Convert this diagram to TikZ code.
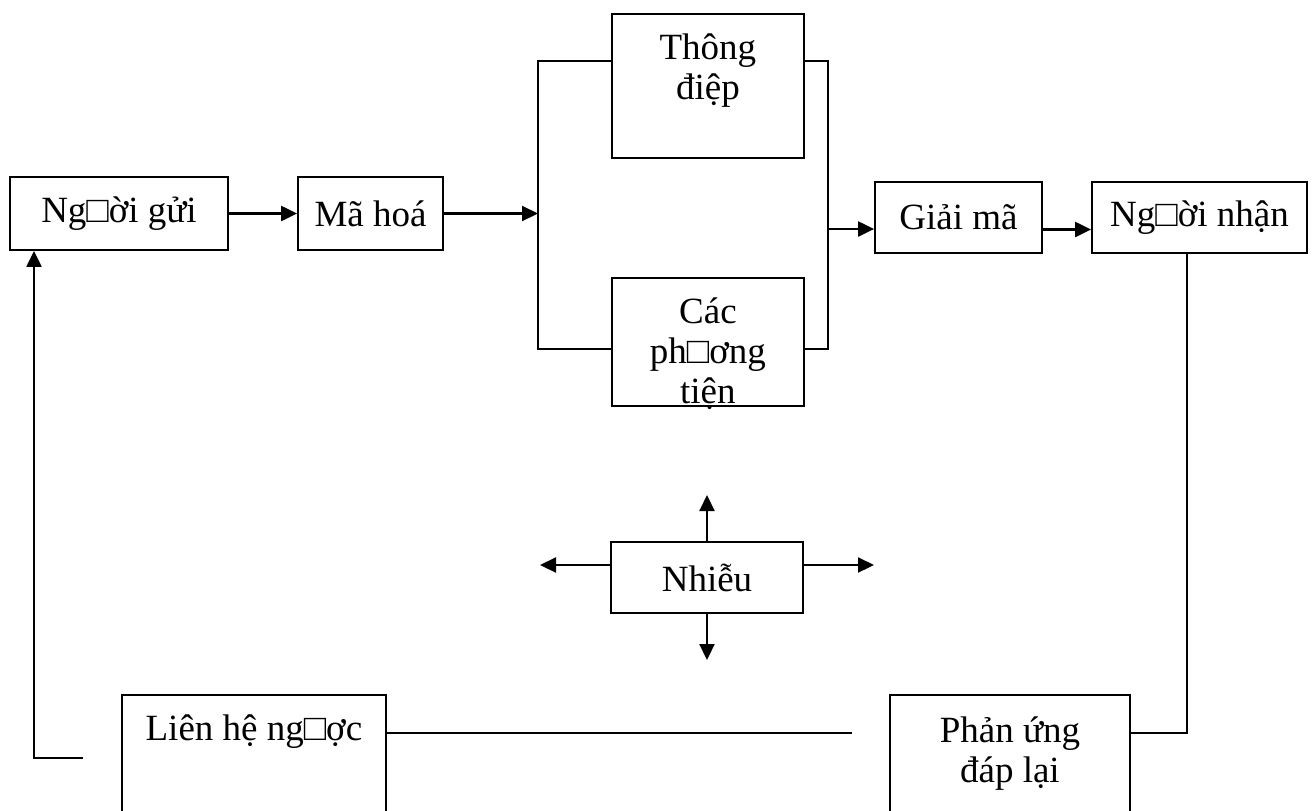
\documentclass[tikz,border=0pt]{standalone}
\usepackage{fontspec}
\setmainfont{Liberation Serif}
\usetikzlibrary{arrows.meta, positioning}

\begin{document}
\begin{tikzpicture}[
  x=0.5pt, y=-0.5pt,
  blk/.style={draw, line width=0.9pt, inner sep=0pt, font=\fontsize{18.5}{20}\selectfont},
  toptxt/.style={anchor=north, align=center, inner sep=0pt, yshift=-10pt, font=\fontsize{18.5}{20}\selectfont},
  lnk/.style={line width=1.1pt},
  arr/.style={lnk, -{Triangle[length=8pt, width=7.5pt]}}
]
  \useasboundingbox (0,0) rectangle (1313,810);

  \node[blk, minimum width=109pt, minimum height=36.5pt] (sender) at (119,213.5) {Ng□ời gửi};
  \node[blk, minimum width=72.5pt, minimum height=36.5pt] (encode) at (370.5,213.5) {Mã hoá};
  \node[blk, minimum width=96pt, minimum height=72pt, anchor=north west,
        label={[toptxt]north:Thông\\điệp}] (msg) at (611,13) {};
  \node[blk, minimum width=96pt, minimum height=64pt, anchor=north west,
        label={[toptxt]north:Các\\ph□ơng\\tiện}] (media) at (611,277) {};
  \node[blk, minimum width=83.5pt, minimum height=35.5pt] (decode) at (958.5,217.5) {Giải mã};
  \node[blk, minimum width=107.5pt, minimum height=35.5pt] (receiver) at (1199.5,217.5) {Ng□ời nhận};
  \node[blk, minimum width=96pt, minimum height=35.5pt] (noise) at (707,577.5) {Nhiễu};
  \node[blk, minimum width=132pt, minimum height=70pt, anchor=north west,
        label={[toptxt]north:Liên hệ ng□ợc}] (feedback) at (121,694) {};
  \node[blk, minimum width=120pt, minimum height=70pt, anchor=north west,
        label={[toptxt, yshift=-1pt]north:Phản ứng\\đáp lại}] (response) at (889,694) {};

  \coordinate (bl1) at (538,61);
  \coordinate (bl2) at (538,349);
  \coordinate (br1) at (828,61);
  \coordinate (br2) at (828,349);
  \coordinate (busout) at (828,229);
  \coordinate (rdown) at (1187,733);
  \coordinate (fbend) at (852,733);
  \coordinate (lstart) at (83,758);
  \coordinate (lcorner) at (34,758);
  \coordinate (nup) at (707,495);
  \coordinate (ndown) at (707,660);
  \coordinate (nleft) at (540,565);
  \coordinate (nright) at (874,565);

  \draw[arr] (sender) -- (encode);
  \draw[arr] (encode.east) -- (encode.east -| bl1);
  \draw[lnk] (msg.west |- bl1) -- (bl1) -- (bl2) -- (media.west |- bl2);
  \draw[lnk] (msg.east |- br1) -- (br1) -- (br2) -- (media.east |- br2);
  \draw[arr] (busout) -- (busout -| decode.west);
  \draw[arr] ([yshift=-6pt]decode.east) -- ([yshift=-6pt]receiver.west);
  \draw[lnk] (rdown |- receiver.south) -- (rdown) -- (rdown -| response.east);
  \draw[lnk] (fbend -| feedback.east) -- (fbend);
  \draw[arr] (lstart) -- (lcorner) -- (lcorner |- sender.south);

  \draw[arr] (noise.north) -- (nup);
  \draw[arr] (noise.south) -- (ndown);
  \draw[arr] (noise.west |- nleft) -- (nleft);
  \draw[arr] (noise.east |- nright) -- (nright);
\end{tikzpicture}
\end{document}
